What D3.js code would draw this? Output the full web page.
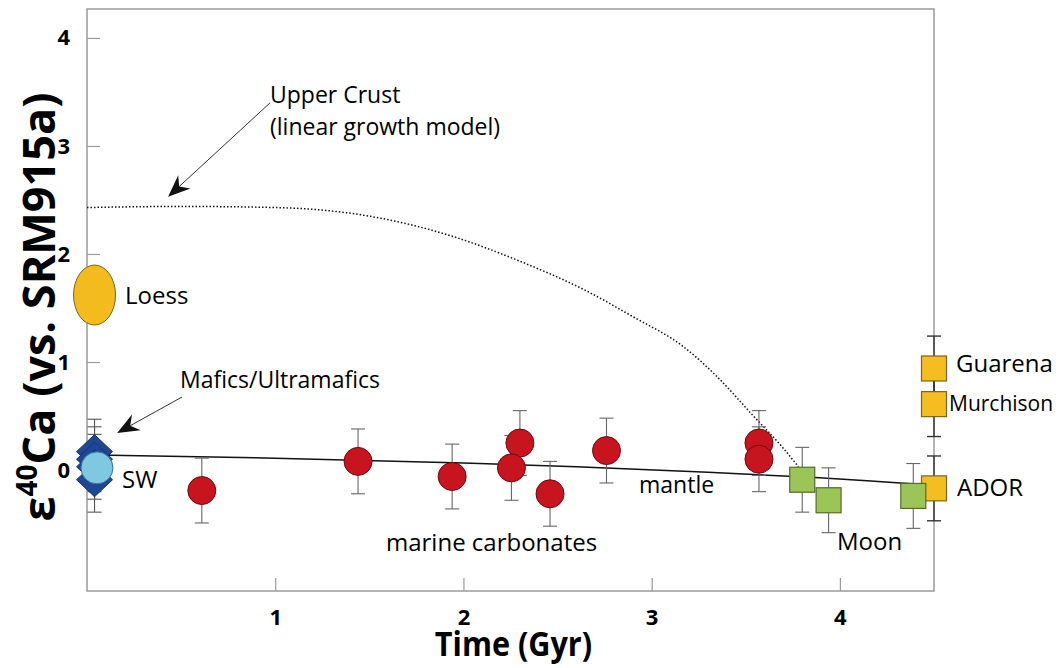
<!DOCTYPE html>
<html>
<head>
<meta charset="utf-8">
<script src="https://cdn.jsdelivr.net/npm/d3@7"></script>
<style>
  html, body { margin: 0; padding: 0; background: #fff; }
  svg { display: block; }
  .lbl { font-family: "Open Sans", "Noto Sans", sans-serif; fill: #000; }
</style>
</head>
<body>
<svg id="chart" width="1060" height="668"></svg>
<script>
// ---------- data ----------
const xTicks = [1, 2, 3, 4];
const yTicks = [0, 1, 2, 3, 4];

// marine carbonates
const carbTime = [0.61, 1.44, 1.94, 2.30, 2.255, 2.46, 2.76, 3.57, 3.57];
const carbEps  = [-0.19, 0.08, -0.06, 0.25, 0.02, -0.22, 0.18, 0.25, 0.10];
const carbErr  = [0.3, 0.3, 0.3, 0.3, 0.3, 0.3, 0.3, 0.3, 0.3];

// Moon samples
const moonTime = [3.80, 3.94, 4.39];
const moonEps  = [-0.09, -0.28, -0.24];
const moonErr  = [0.3, 0.3, 0.3];

// meteorites
const metNames = ["Guarena", "Murchison", "ADOR"];
const metTime  = [4.5, 4.5, 4.5];
const metEps   = [0.94, 0.61, -0.17];
const metErr   = [0.3, 0.3, 0.3];

// mafics / ultramafics
const mafTime = [0.04, 0.04, 0.04, 0.04];
const mafEps  = [0.17, 0.10, 0.03, -0.09];
const mafErr  = [0.3, 0.3, 0.3, 0.3];

// seawater
const swTime = [0.053];
const swEps  = [0.02];

// loess
const loessTime = [0.04];
const loessEps  = [1.62];

// mantle evolution line
const mantleTime = [0, 1, 2, 2.6, 3.3, 3.87, 4.32, 4.5];
const mantleEps  = [0.14, 0.11, 0.065, 0.03, -0.02, -0.07, -0.12, -0.14];

// upper crust (linear growth model)
const crustTime = [0, 0.5, 1.0, 1.5, 1.93, 2.29, 2.64, 2.90, 3.17, 3.35, 3.53, 3.70, 3.78];
const crustEps  = [2.43, 2.44, 2.43, 2.35, 2.17, 1.94, 1.67, 1.42, 1.14, 0.86, 0.52, 0.20, 0.03];

// ---------- layout ----------
const W = 1060, H = 668;
const M = { left: 87, top: 9, right: 126, bottom: 77 };
const svg = d3.select("#chart");

const x = d3.scaleLinear().domain([0, 4.5]).range([M.left, W - M.right]);
const y = d3.scaleLinear().domain([-1.12, 4.268]).range([H - M.bottom, M.top]);

const gray = "#9b9b9b";

// axes
const yAxis = d3.axisLeft(y).tickValues(yTicks).tickFormat(d3.format("d"))
  .tickSize(-13).tickSizeOuter(0).tickPadding(17);
const xAxis = d3.axisBottom(x).tickValues(xTicks).tickFormat(d3.format("d"))
  .tickSize(-13).tickSizeOuter(0).tickPadding(18);

const gy = svg.append("g").attr("transform", `translate(${M.left},0)`).call(yAxis);
const gx = svg.append("g").attr("transform", `translate(0,${H - M.bottom})`).call(xAxis);
[gx, gy].forEach(g => {
  g.select(".domain").remove();
  g.selectAll(".tick line").attr("stroke", gray).attr("stroke-width", 1.2);
  g.selectAll(".tick text").attr("fill", "#000")
    .style("font-family", "'Open Sans', sans-serif")
    .style("font-weight", "700").style("font-size", "22px");
});

// frame
svg.append("rect")
  .attr("x", x(0)).attr("y", y(4.268))
  .attr("width", x(4.5) - x(0)).attr("height", y(-1.12) - y(4.268))
  .attr("fill", "none").attr("stroke", gray).attr("stroke-width", 1.5);

// axis titles
svg.append("text")
  .attr("transform", `translate(${(x(0) + x(4.5)) / 2 + 3},656) scale(0.9,1)`)
  .attr("text-anchor", "middle")
  .style("font-family", "'Open Sans', sans-serif")
  .style("font-weight", "700").style("font-size", "34px").attr("fill", "#000")
  .text("Time (Gyr)");

const yt = svg.append("text")
  .attr("transform", "translate(55,307) rotate(-90)")
  .attr("text-anchor", "middle")
  .style("font-family", "'Open Sans', sans-serif")
  .style("font-weight", "700").style("font-size", "45px").attr("fill", "#000");
yt.append("tspan").text("ε");
yt.append("tspan").attr("dy", -18).style("font-size", "28px").text("40");
yt.append("tspan").attr("dy", 18).text("Ca (vs. SRM915a)");

// ---------- lines ----------
svg.append("path")
  .datum(crustTime.map((t, i) => [t, crustEps[i]]))
  .attr("d", d3.line().x(d => x(d[0])).y(d => y(d[1])).curve(d3.curveMonotoneX))
  .attr("fill", "none").attr("stroke", "#111").attr("stroke-width", 1.5)
  .attr("stroke-dasharray", "1.5,2");

svg.append("path")
  .datum(mantleTime.map((t, i) => [t, mantleEps[i]]))
  .attr("d", d3.line().x(d => x(d[0])).y(d => y(d[1])).curve(d3.curveMonotoneX))
  .attr("fill", "none").attr("stroke", "#111").attr("stroke-width", 1.5);

// ---------- error bars ----------
function errBars(ts, vs, es, color, w) {
  const g = svg.append("g").attr("stroke", color).attr("stroke-width", w || 1.1);
  ts.forEach((t, i) => {
    const cx = x(t), y1 = y(vs[i] + es[i]), y2 = y(vs[i] - es[i]);
    g.append("line").attr("x1", cx).attr("x2", cx).attr("y1", y1).attr("y2", y2);
    g.append("line").attr("x1", cx - 7).attr("x2", cx + 7).attr("y1", y1).attr("y2", y1);
    g.append("line").attr("x1", cx - 7).attr("x2", cx + 7).attr("y1", y2).attr("y2", y2);
  });
}
errBars(mafTime, mafEps, mafErr, "#555");
errBars(carbTime, carbEps, carbErr, "#666");
errBars(moonTime, moonEps, moonErr, "#666");
errBars(metTime, metEps, metErr, "#333", 1.4);

// ---------- markers ----------
// loess
svg.append("g").selectAll("ellipse").data(loessTime).join("ellipse")
  .attr("cx", (d) => x(d)).attr("cy", (d, i) => y(loessEps[i]))
  .attr("rx", 21).attr("ry", 30)
  .attr("fill", "#f4bb1f").attr("stroke", "#7a6420").attr("stroke-width", 1);

// mafics diamonds
svg.append("g").selectAll("path").data(mafTime).join("path")
  .attr("d", (d, i) => {
    const cx = x(d), cy = y(mafEps[i]);
    return `M${cx},${cy - 17}L${cx + 18},${cy}L${cx},${cy + 17}L${cx - 18},${cy}Z`;
  })
  .attr("fill", "#1f4694").attr("stroke", "#163370").attr("stroke-width", 1);

// seawater
svg.append("g").selectAll("circle").data(swTime).join("circle")
  .attr("cx", d => x(d)).attr("cy", (d, i) => y(swEps[i])).attr("r", 16)
  .attr("fill", "#7ec9e0").attr("stroke", "#3b6f93").attr("stroke-width", 1);

// carbonates
svg.append("g").selectAll("circle").data(carbTime).join("circle")
  .attr("cx", d => x(d)).attr("cy", (d, i) => y(carbEps[i])).attr("r", 14)
  .attr("fill", "#c8141e").attr("stroke", "#6e0a10").attr("stroke-width", 1);

// meteorites
svg.append("g").selectAll("rect").data(metTime).join("rect")
  .attr("x", d => x(d) - 12.5).attr("y", (d, i) => y(metEps[i]) - 12.5)
  .attr("width", 25).attr("height", 25)
  .attr("fill", "#f5bd1f").attr("stroke", "#7a6420").attr("stroke-width", 1.2);

// moon
svg.append("g").selectAll("rect").data(moonTime).join("rect")
  .attr("x", d => x(d) - 12.5).attr("y", (d, i) => y(moonEps[i]) - 12.5)
  .attr("width", 25).attr("height", 25)
  .attr("fill", "#9cc558").attr("stroke", "#566b2b").attr("stroke-width", 1.2);

// ---------- arrows ----------
function arrow(t1, v1, t2, v2) {
  const x1 = x(t1), y1 = y(v1), x2 = x(t2), y2 = y(v2);
  const a = Math.atan2(y2 - y1, x2 - x1);
  const L = 22, Wd = 9, N = 15;
  const px = (d, s) => [x2 - d * Math.cos(a) - s * Math.sin(a), y2 - d * Math.sin(a) + s * Math.cos(a)];
  svg.append("line").attr("x1", x1).attr("y1", y1)
    .attr("x2", px(N, 0)[0]).attr("y2", px(N, 0)[1])
    .attr("stroke", "#333").attr("stroke-width", 1);
  const p1 = px(L, Wd), p2 = px(N, 0), p3 = px(L, -Wd);
  svg.append("path")
    .attr("d", `M${x2},${y2}L${p1[0]},${p1[1]}L${p2[0]},${p2[1]}L${p3[0]},${p3[1]}Z`)
    .attr("fill", "#111");
}
arrow(0.973, 3.40, 0.431, 2.53);
arrow(0.505, 0.676, 0.16, 0.343);

// ---------- labels ----------
const labels = [
  ["Upper Crust", 270, 103, 23],
  ["(linear growth model)", 270, 135, 23],
  ["Loess", 125, 304, 24],
  ["Mafics/Ultramafics", 180, 388, 23],
  ["SW", 122, 488, 24],
  ["mantle", 639, 493, 23],
  ["marine carbonates", 386, 551, 24],
  ["Moon", 837, 550, 24],
  ["Guarena", 956, 372, 24],
  ["Murchison", 949, 411, 21],
  ["ADOR", 957, 496, 24]
];
svg.append("g").selectAll("text").data(labels).join("text")
  .attr("class", "lbl")
  .attr("x", d => d[1]).attr("y", d => d[2])
  .style("font-size", d => d[3] + "px")
  .text(d => d[0]);
</script>
</body>
</html>
